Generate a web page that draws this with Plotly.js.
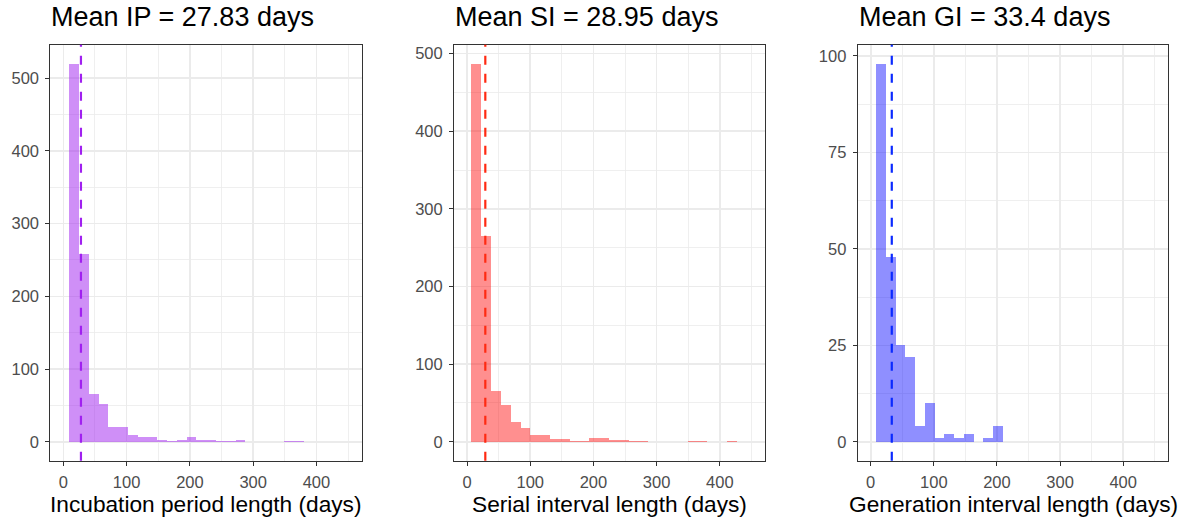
<!DOCTYPE html>
<html>
<head>
<meta charset="utf-8">
<script src="https://cdn.plot.ly/plotly-3.0.1.min.js"></script>
<style>
  html, body { margin: 0; padding: 0; background: #ffffff; }
  #chart { width: 1197px; height: 520px; }
</style>
</head>
<body>
<div id="chart"></div>
<script>
// ---- Data ----
const panelTitles = ["Mean IP = 27.83 days", "Mean SI = 28.95 days", "Mean GI = 33.4 days"];
const axisTitles = ["Incubation period length (days)", "Serial interval length (days)", "Generation interval length (days)"];
const meanValues = [27.83, 28.95, 33.4];

// histogram bin layout (first bin edge, bin width in days)
const ipBinStart = 9.5,  ipBinWidth = 15.45;
const siBinStart = 6.9,  siBinWidth = 15.56;
const giBinStart = 8.4,  giBinWidth = 15.48;

// counts per bin
const ipCounts = [520, 258, 66, 52, 21, 21, 9, 7, 7, 3, 1, 3, 6, 3, 2, 1, 1, 2, 0, 0, 0, 0, 1, 1];
const siCounts = [487, 265, 66, 48, 25, 18, 9, 9, 4, 3, 1, 1, 5, 5, 2, 2, 1, 1, 0, 0, 0, 0, 1, 1, 0, 0, 1];
const giCounts = [98, 48, 25, 22, 4, 10, 1, 2, 1, 2, 0, 1, 4];

const xTickVals = [0, 100, 200, 300, 400];
const ipYTicks = [0, 100, 200, 300, 400, 500];
const siYTicks = [0, 100, 200, 300, 400, 500];
const giYTicks = [0, 25, 50, 75, 100];

// ---- Styling ----
const FONT = '"Liberation Sans", Arial, Helvetica, sans-serif';
const W = 1197, H = 520;
const panelsPx = [[50.3, 361.7], [454, 765], [857.7, 1168.3]];
const plotTop = 44.7, plotBottom = 460.7;
const barFills = ["rgba(160,32,240,0.5)", "rgba(255,0,0,0.44)", "rgba(0,0,255,0.44)"];
const lineColors = ["#a020f0", "#ff2a12", "#0a2aff"];

const binStarts = [ipBinStart, siBinStart, giBinStart];
const binWidths = [ipBinWidth, siBinWidth, giBinWidth];
const countsAll = [ipCounts, siCounts, giCounts];
const yTicksAll = [ipYTicks, siYTicks, giYTicks];
const yMinorAll = [50, 50, 12.5];

function yRangeFor(counts) {
  const m = Math.max(...counts);
  return [-0.05 * m, 1.05 * m];
}

const traces = [];
const layout = {
  width: W, height: H,
  margin: {l: 0, r: 0, t: 0, b: 0},
  paper_bgcolor: "#ffffff",
  plot_bgcolor: "#ffffff",
  showlegend: false,
  bargap: 0,
  font: {family: FONT, color: "#4d4d4d", size: 16.5},
  shapes: [],
  annotations: []
};

const yDom = [1 - plotBottom / H, 1 - plotTop / H];

for (let p = 0; p < 3; p++) {
  const counts = countsAll[p];
  const xs = counts.map((_, i) => binStarts[p] + (i + 0.5) * binWidths[p]);
  const suffix = p === 0 ? "" : String(p + 1);
  traces.push({
    type: "bar",
    x: xs,
    y: counts,
    width: binWidths[p],
    marker: {color: barFills[p], line: {width: 0}},
    xaxis: "x" + suffix,
    yaxis: "y" + suffix,
    hoverinfo: "x+y"
  });

  const xDom = [panelsPx[p][0] / W, panelsPx[p][1] / W];
  const common = {
    showline: true, mirror: true, linecolor: "#333333", linewidth: 1,
    ticks: "outside", ticklen: 4, tickwidth: 1, tickcolor: "#333333",
    showgrid: true, gridcolor: "#ebebeb", gridwidth: 1.6,
    zeroline: false,
    tickfont: {family: FONT, size: 16.5, color: "#4d4d4d"},
    fixedrange: true
  };
  layout["xaxis" + suffix] = Object.assign({}, common, {
    domain: xDom,
    anchor: "y" + suffix,
    range: [-20.6, 471.5],
    tickmode: "array",
    tickvals: xTickVals,
    ticklabelstandoff: 2,
    minor: {dtick: 50, tick0: 0, showgrid: true, gridcolor: "#ebebeb", gridwidth: 0.8, ticks: ""}
  });
  layout["yaxis" + suffix] = Object.assign({}, common, {
    domain: yDom,
    anchor: "x" + suffix,
    range: yRangeFor(counts),
    tickmode: "array",
    tickvals: yTicksAll[p],
    ticklabelstandoff: 3,
    minor: {dtick: yMinorAll[p], tick0: 0, showgrid: true, gridcolor: "#ebebeb", gridwidth: 0.8, ticks: ""}
  });

  layout.shapes.push({
    type: "line",
    xref: "x" + suffix, yref: "y" + suffix + " domain",
    x0: meanValues[p], x1: meanValues[p], y0: 0, y1: 1,
    line: {color: lineColors[p], width: 2.2, dash: "9px,9px"}
  });

  layout.annotations.push({
    text: panelTitles[p],
    xref: "paper", yref: "paper",
    x: xDom[0] - 1 / W, y: 1 - 17.5 / H,
    xanchor: "left", yanchor: "middle",
    showarrow: false,
    font: {family: FONT, size: 27, color: "#000000"}
  });
  layout.annotations.push({
    text: axisTitles[p],
    xref: "paper", yref: "paper",
    x: (xDom[0] + xDom[1]) / 2, y: 1 - 504 / H,
    xanchor: "center", yanchor: "middle",
    showarrow: false,
    font: {family: FONT, size: 22.7, color: "#000000"}
  });
}

Plotly.newPlot("chart", traces, layout, {displayModeBar: false, staticPlot: true});
</script>
</body>
</html>
